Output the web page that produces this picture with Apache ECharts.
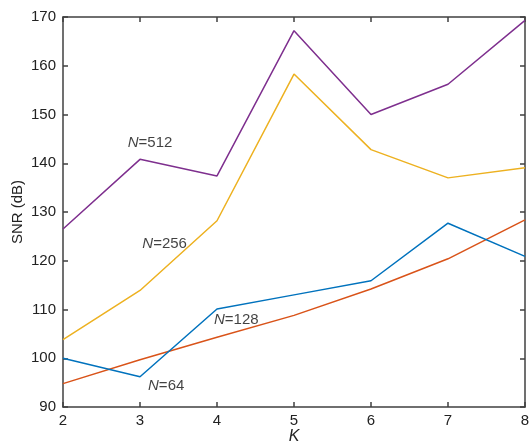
<!DOCTYPE html>
<html>
<head>
<meta charset="utf-8">
<script src="https://cdn.jsdelivr.net/npm/echarts@6/dist/echarts.min.js"></script>
<style>
  html, body { margin: 0; padding: 0; background: #fff; }
  #chart { width: 530px; height: 443px; }
</style>
</head>
<body>
<div id="chart"></div>
<script>
// K values on the x axis
var kValues = [2, 3, 4, 5, 6, 7, 8];
// SNR (dB) for each N
var snr512 = [126.5, 140.8, 137.4, 167.2, 150.0, 156.2, 169.3];
var snr256 = [103.8, 113.9, 128.2, 158.3, 142.8, 137.0, 139.1];
var snr128 = [100.0, 96.2, 110.1, 113.0, 115.9, 127.7, 120.9];
var snr64  = [94.8, 99.7, 104.3, 108.8, 114.2, 120.4, 128.4];
// curve labels: [K, SNR, N]
var curveLabels = [
  [3.13, 144.2, '512'],
  [3.32, 123.5, '256'],
  [4.25, 107.9, '128'],
  [3.34, 94.4, '64']
];

var font = 'Helvetica, Arial, "Liberation Sans", sans-serif';
var axisColor = '#404040';

function pairs(ys) {
  return kValues.map(function (k, i) { return [k, ys[i]]; });
}

function line(name, ys, color) {
  return {
    name: name,
    type: 'line',
    data: pairs(ys),
    symbol: 'none',
    animation: false,
    lineStyle: { color: color, width: 1.5 }
  };
}

var myChart = echarts.init(document.getElementById('chart'));
var series = [
  line('N=64', snr64, '#D95319'),
  line('N=128', snr128, '#0072BD'),
  line('N=256', snr256, '#EDB120'),
  line('N=512', snr512, '#7E2F8E')
];
// text annotations placed in data coordinates
series.push({
  type: 'scatter',
  symbolSize: 0,
  silent: true,
  animation: false,
  data: curveLabels.map(function (d) { return { value: [d[0], d[1]], n: d[2] }; }),
  label: {
    show: true,
    position: 'inside',
    formatter: function (p) { return '{i|N}{t|=' + p.data.n + '}'; },
    rich: {
      i: { fontStyle: 'italic', fontSize: 15, color: '#111', fontFamily: font },
      t: { fontSize: 15, color: '#111', fontFamily: font }
    }
  }
});

var axisBase = {
  type: 'value',
  axisLine: { show: true, lineStyle: { color: axisColor, width: 1.5 } },
  axisTick: { show: true, inside: true, length: 5, lineStyle: { color: axisColor, width: 1.5 } },
  splitLine: { show: false }
};

var option = {
  backgroundColor: '#fff',
  animation: false,
  grid: { left: 63, right: 5, top: 17, bottom: 36, containLabel: false, outerBoundsMode: 'none' },
  xAxis: [
    Object.assign({}, axisBase, {
      position: 'bottom', min: 2, max: 8, interval: 1,
      name: 'K', nameLocation: 'middle', nameGap: 22, nameMoveOverlap: false,
      nameTextStyle: { fontStyle: 'italic', fontSize: 16, color: '#222', fontFamily: font },
      axisLabel: { fontSize: 15, color: '#222', fontFamily: font, margin: 6 }
    }),
    Object.assign({}, axisBase, {
      position: 'top', min: 2, max: 8, interval: 1,
      axisLabel: { show: false }
    })
  ],
  yAxis: [
    Object.assign({}, axisBase, {
      position: 'left', min: 90, max: 170, interval: 10,
      name: 'SNR (dB)', nameLocation: 'middle', nameGap: 38, nameRotate: 90, nameMoveOverlap: false,
      nameTextStyle: { fontSize: 15, color: '#222', fontFamily: font },
      axisLabel: { fontSize: 15, color: '#222', fontFamily: font, margin: 7 }
    }),
    Object.assign({}, axisBase, {
      position: 'right', min: 90, max: 170, interval: 10,
      axisLabel: { show: false }
    })
  ],
  series: series
};

myChart.setOption(option);
window.addEventListener('resize', function () {
  myChart.resize();
});
</script>
</body>
</html>
